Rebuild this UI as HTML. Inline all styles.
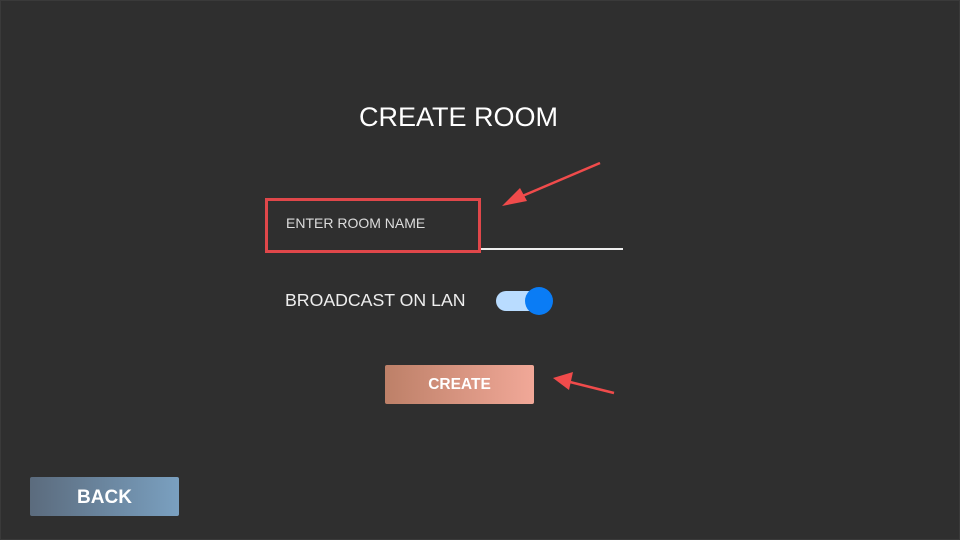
<!DOCTYPE html>
<html><head><style>
body{margin:0;width:960px;height:540px;background:#2f2f2f;position:relative;overflow:hidden;font-family:"Liberation Sans",sans-serif}
.a{position:absolute}
</style></head><body>
<div class="a" style="left:0;top:0;width:958px;height:538px;border:1px solid #3a3a3a"></div>
<div class="a" style="left:0;width:917px;top:102px;text-align:center;color:#fff;font-size:27px">CREATE ROOM</div>
<div class="a" style="left:479px;top:248px;width:144px;height:2px;background:#eee"></div>
<div class="a" style="left:265px;top:198px;width:210px;height:49px;border:3px solid #e0474a"></div>
<div class="a" style="left:286px;top:215px;color:#ddd;font-size:14px">ENTER ROOM NAME</div>
<div class="a" style="left:285px;top:290px;color:#eee;font-size:17.7px">BROADCAST ON LAN</div>
<div class="a" style="left:496px;top:291px;width:46px;height:20px;border-radius:10px;background:#b9dcff"></div>
<div class="a" style="left:525px;top:287px;width:28px;height:28px;border-radius:50%;background:#0a7cf5"></div>
<div class="a" style="left:385px;top:365px;width:149px;height:39px;border-radius:2px;background:linear-gradient(90deg,#bd8068,#f1a898);color:#fff;font-weight:bold;font-size:15.5px;text-align:center;line-height:40px">CREATE</div>
<div class="a" style="left:30px;top:477px;width:149px;height:39px;border-radius:2px;background:linear-gradient(90deg,#5b6b7d,#7aa0c0);color:#fff;font-weight:bold;font-size:19px;text-align:center;line-height:41px">BACK</div>
<svg class="a" style="left:0;top:0" width="960" height="540">
<line x1="600" y1="163" x2="520" y2="197" stroke="#f04b4b" stroke-width="2.5"/>
<polygon points="502,206 520,188 527,201" fill="#f04b4b"/>
<line x1="614" y1="393" x2="570" y2="382" stroke="#f04b4b" stroke-width="2.5"/>
<polygon points="553,378 573,372 569,390" fill="#f04b4b"/>
</svg>
</body></html>
